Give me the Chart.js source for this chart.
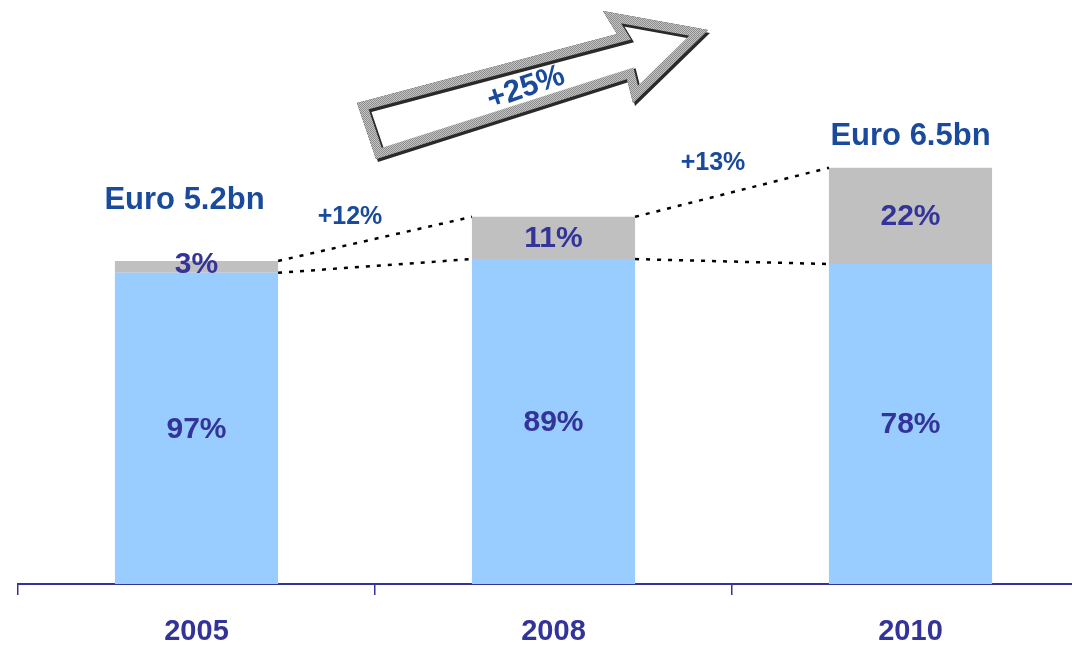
<!DOCTYPE html>
<html>
<head>
<meta charset="utf-8">
<script src="https://cdn.jsdelivr.net/npm/chart.js@4.4.1/dist/chart.umd.min.js"></script>
<style>
  html, body { margin: 0; padding: 0; background: #fff; overflow: hidden; }
  canvas { display: block; }
</style>
</head>
<body>
<canvas id="salesChart" width="1090" height="645"></canvas>
<script>
// values as drawn on the slide (bn, stacked)
const years = ['2005', '2008', '2010'];
const baseValues = [5.01, 5.23, 5.15];
const topValues = [0.19, 0.68, 1.55];
const baseShares = ['97%', '89%', '78%'];
const topShares = ['3%', '11%', '22%'];
const totalLabels = ['Euro 5.2bn', '', 'Euro 6.5bn'];
const growthLabels = ['+12%', '+13%'];
const overallGrowth = '+25%';

const navy = '#333399';
const blueText = '#1a4a9c';
const fontFamily = '"Liberation Sans", Arial, Helvetica, sans-serif';

function checkerPattern(ctx) {
  const c = document.createElement('canvas');
  c.width = 2; c.height = 2;
  const p = c.getContext('2d');
  p.fillStyle = '#c4c4c4'; p.fillRect(0, 0, 2, 2);
  p.fillStyle = '#8c8c8c'; p.fillRect(0, 0, 1, 1); p.fillRect(1, 1, 1, 1);
  return ctx.createPattern(c, 'repeat');
}

function drawArrow(ctx) {
  const pts = [[357, 103], [617, 34], [603, 11], [708, 30], [633, 103], [627, 79], [376, 159]];
  const path = (dx, dy) => {
    ctx.beginPath();
    pts.forEach((p, i) => i ? ctx.lineTo(p[0] + dx, p[1] + dy) : ctx.moveTo(p[0] + dx, p[1] + dy));
    ctx.closePath();
  };
  ctx.save();
  ctx.lineJoin = 'miter';
  // drop shadow
  path(2, 3);
  ctx.fillStyle = '#2a2a2a';
  ctx.fill();
  path(0, 0);
  ctx.fillStyle = '#fff';
  ctx.fill();
  // band inside the outline
  ctx.save();
  path(0, 0);
  ctx.clip();
  path(1.5, 2);
  ctx.lineWidth = 20;
  ctx.strokeStyle = '#2a2a2a';
  ctx.stroke();
  path(0, 0);
  ctx.lineWidth = 18;
  ctx.strokeStyle = checkerPattern(ctx);
  ctx.stroke();
  ctx.restore();

  ctx.translate(526, 88);
  ctx.rotate(-19 * Math.PI / 180);
  ctx.fillStyle = blueText;
  ctx.font = 'bold 31px ' + fontFamily;
  ctx.textAlign = 'center';
  ctx.textBaseline = 'middle';
  ctx.fillText(overallGrowth, 0, 0);
  ctx.restore();
}

function dotted(ctx, x1, y1, x2, y2) {
  ctx.save();
  ctx.beginPath();
  ctx.setLineDash([4, 7]);
  ctx.lineWidth = 2.5;
  ctx.strokeStyle = '#000';
  ctx.moveTo(x1, y1);
  ctx.lineTo(x2, y2);
  ctx.stroke();
  ctx.restore();
}

const annotations = {
  id: 'annotations',
  afterDatasetsDraw(chart) {
    const ctx = chart.ctx;
    const base = chart.getDatasetMeta(0).data;
    const top = chart.getDatasetMeta(1).data;

    // connectors between bars
    for (let i = 0; i < base.length - 1; i++) {
      const a = top[i], b = top[i + 1];
      const ra = a.x + a.width / 2, lb = b.x - b.width / 2;
      dotted(ctx, ra, a.y, lb, b.y);
      dotted(ctx, ra, base[i].y, lb, base[i + 1].y);
    }

    ctx.save();
    ctx.textAlign = 'center';
    ctx.textBaseline = 'middle';

    // shares inside segments
    ctx.fillStyle = navy;
    ctx.font = 'bold 30px ' + fontFamily;
    base.forEach((bar, i) => {
      ctx.fillText(baseShares[i], bar.x, (bar.y + bar.base) / 2 + 1);
      const t = top[i];
      ctx.fillText(topShares[i], t.x, (t.y + t.base) / 2 + (i === 0 ? -2 : 1));
    });

    // totals
    ctx.fillStyle = blueText;
    ctx.font = 'bold 31px ' + fontFamily;
    const totalOffsets = [60, 0, 31];
    top.forEach((t, i) => {
      if (totalLabels[i]) ctx.fillText(totalLabels[i], t.x - (i === 0 ? 12 : 0), t.y - totalOffsets[i]);
    });

    // growth between years
    ctx.font = 'bold 25px ' + fontFamily;
    const growthDx = [-25, -19];
    const growthY = [217, 163];
    growthLabels.forEach((g, i) => {
      const mx = (top[i].x + top[i + 1].x) / 2 + growthDx[i];
      ctx.fillText(g, mx, growthY[i]);
    });
    ctx.restore();

    drawArrow(ctx);
  }
};

new Chart(document.getElementById('salesChart'), {
  type: 'bar',
  data: {
    labels: years,
    datasets: [
      { data: baseValues, backgroundColor: '#99ccff', borderWidth: 0 },
      { data: topValues, backgroundColor: '#c0c0c0', borderWidth: 0 }
    ]
  },
  options: {
    responsive: false,
    animation: false,
    layout: { padding: { left: 18, right: 1, top: 0, bottom: 0 } },
    datasets: { bar: { categoryPercentage: 1, barPercentage: 0.457 } },
    plugins: { legend: { display: false }, tooltip: { enabled: false } },
    scales: {
      x: {
        stacked: true,
        afterFit(scale) { scale.height = 61; },
        border: { display: true, color: navy, width: 2 },
        grid: { offset: true, drawOnChartArea: false, drawTicks: true, tickLength: 11, color: navy, lineWidth: 1.5 },
        ticks: { color: navy, padding: 20, font: { family: fontFamily, size: 29, weight: 'bold' } }
      },
      y: {
        stacked: true,
        display: false,
        min: 0,
        max: 9.4
      }
    }
  },
  plugins: [annotations]
});
</script>
</body>
</html>
